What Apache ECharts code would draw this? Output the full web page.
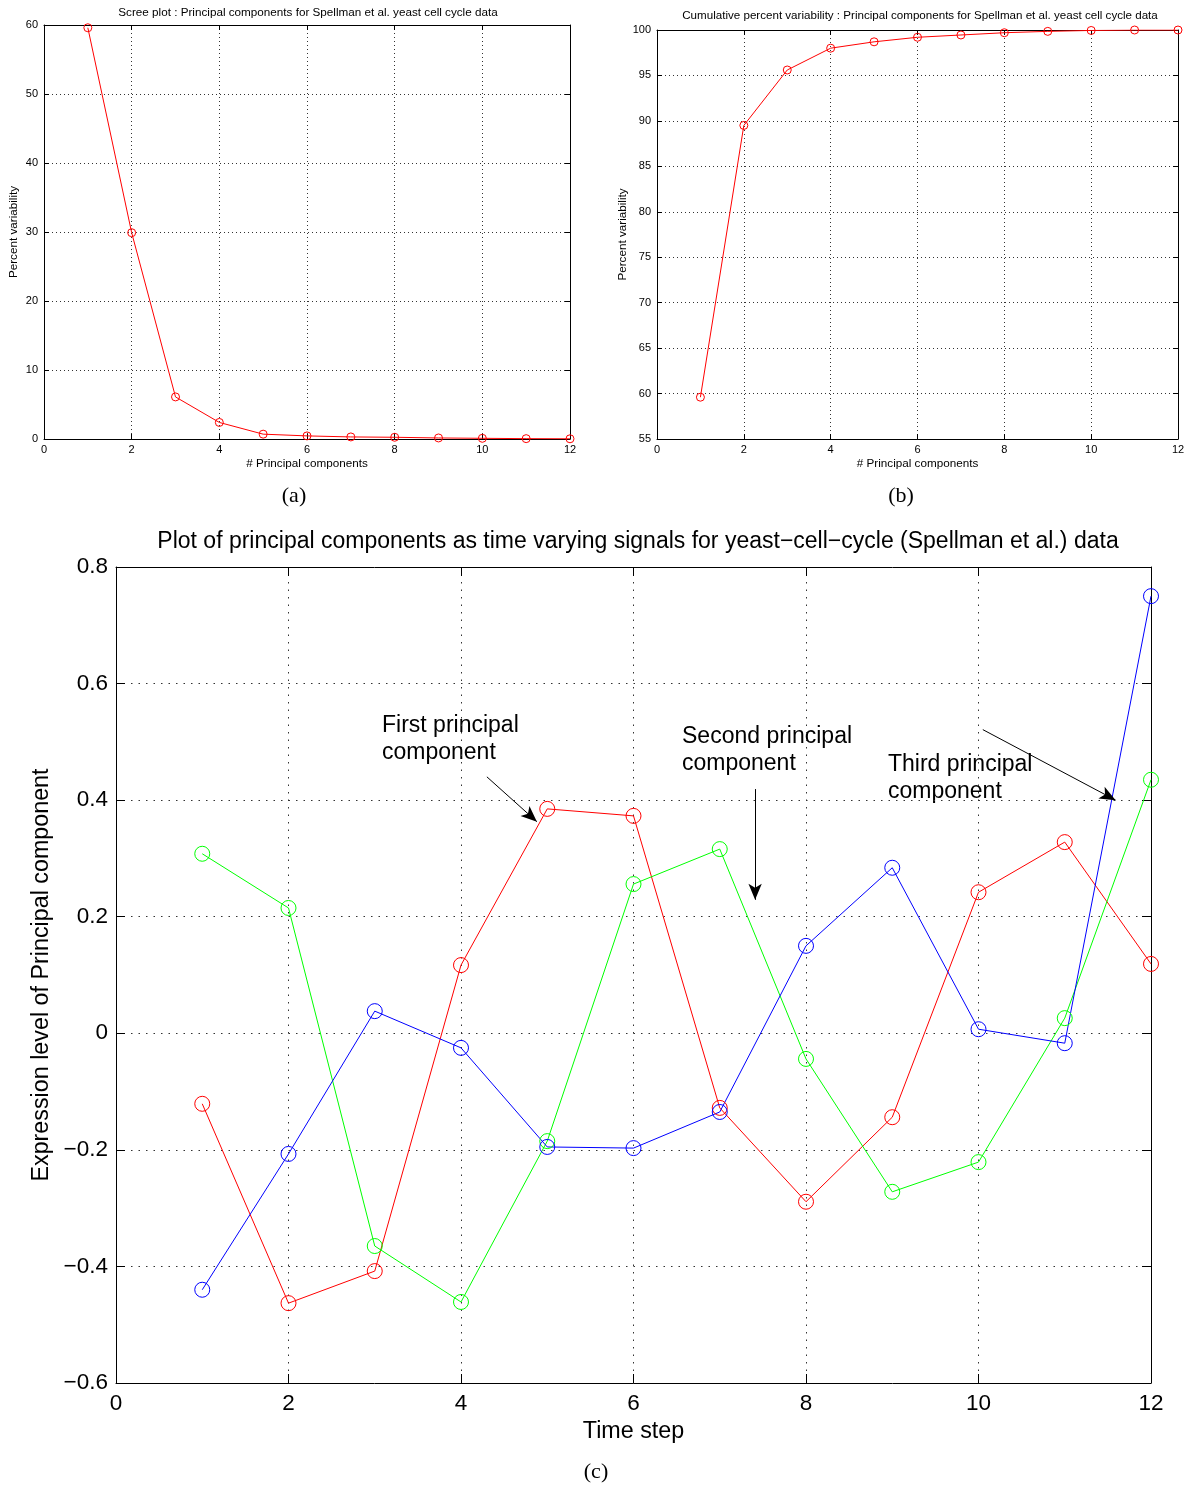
<!DOCTYPE html>
<html>
<head>
<meta charset="utf-8">
<script src="https://cdn.jsdelivr.net/npm/echarts@6/dist/echarts.min.js"></script>
<style>
html,body{margin:0;padding:0;background:#fff;}
#chart{width:1196px;height:1487px;}
</style>
</head>
<body>
<div id="chart"></div>
<script>
// ---- data ----
const componentNumbers = [1, 2, 3, 4, 5, 6, 7, 8, 9, 10, 11, 12];
const screeValues = [59.6, 29.9, 6.1, 2.4, 0.7, 0.45, 0.3, 0.25, 0.15, 0.1, 0.05, 0.03];
const cumulativeValues = [59.6, 89.5, 95.6, 98.0, 98.7, 99.2, 99.45, 99.7, 99.85, 99.95, 100.0, 100.0];
const timeSteps = [1, 2, 3, 4, 5, 6, 7, 8, 9, 10, 11, 12];
const firstPC = [-0.121, -0.463, -0.408, 0.117, 0.385, 0.373, -0.128, -0.289, -0.144, 0.242, 0.328, 0.119];
const secondPC = [0.308, 0.215, -0.365, -0.461, -0.185, 0.256, 0.316, -0.044, -0.272, -0.221, 0.026, 0.435];
const thirdPC = [-0.440, -0.207, 0.038, -0.025, -0.195, -0.197, -0.135, 0.150, 0.284, 0.007, -0.017, 0.750];
const annotationTexts = ['First principal\ncomponent', 'Second principal\ncomponent', 'Third principal\ncomponent'];
// arrows in data coordinates of panel (c): [fromX, fromY, toX, toY]
const annotationArrows = [
  [4.30, 0.440, 4.88, 0.363],
  [7.41, 0.419, 7.41, 0.229],
  [10.05, 0.521, 11.59, 0.400]
];

const FONT = 'Liberation Sans, Arial, Helvetica, sans-serif';
const SERIF = 'Liberation Serif, Times New Roman, serif';
const pair = (xs, ys) => xs.map((x, i) => [x, ys[i]]);

function makeAxes(gi, opt) {
  const common = {
    gridIndex: gi, type: 'value',
    axisLine: {show: true, onZero: false, lineStyle: {color: '#000', width: 1}},
    axisTick: {show: true, inside: true, length: opt.tick, lineStyle: {color: '#000'}},
  };
  const xMain = Object.assign({}, common, {
    position: 'bottom', min: 0, max: 12, interval: 2,
    axisLabel: {show: true, color: '#000', fontFamily: FONT, fontSize: opt.fs, margin: opt.xMargin},
    splitLine: {show: true, lineStyle: {color: '#333', type: opt.dash, width: 1}},
    name: opt.xName, nameLocation: 'middle', nameGap: opt.xNameGap,
    nameTextStyle: {color: '#000', fontFamily: FONT, fontSize: opt.nameFs}
  });
  const xTop = Object.assign({}, common, {
    position: 'top', min: 0, max: 12, interval: 2,
    axisLabel: {show: false}, splitLine: {show: false}
  });
  const yMain = Object.assign({}, common, {
    position: 'left', min: opt.ymin, max: opt.ymax, interval: opt.yint,
    axisLabel: {show: true, color: '#000', fontFamily: FONT, fontSize: opt.fs, margin: opt.yMargin,
      formatter: opt.yFmt},
    splitLine: {show: true, lineStyle: {color: '#333', type: opt.dash, width: 1}},
    name: opt.yName, nameLocation: 'middle', nameGap: opt.yNameGap,
    nameTextStyle: {color: '#000', fontFamily: FONT, fontSize: opt.nameFs}
  });
  const yRight = Object.assign({}, common, {
    position: 'right', min: opt.ymin, max: opt.ymax, interval: opt.yint,
    axisLabel: {show: false}, splitLine: {show: false}
  });
  return {x: [xMain, xTop], y: [yMain, yRight]};
}

const axA = makeAxes(0, {tick: 5, fs: 11, xMargin: 5, yMargin: 6, dash: [1, 3], nameFs: 11.7,
  xName: '# Principal components', xNameGap: 19, yName: 'Percent variability', yNameGap: 24,
  ymin: 0, ymax: 60, yint: 10, yFmt: v => String(v)});
const axB = makeAxes(1, {tick: 5, fs: 11, xMargin: 5, yMargin: 6, dash: [1, 3], nameFs: 11.7,
  xName: '# Principal components', xNameGap: 19, yName: 'Percent variability', yNameGap: 28,
  ymin: 55, ymax: 100, yint: 5, yFmt: v => String(v)});
const axC = makeAxes(2, {tick: 9, fs: 22.5, xMargin: 9, yMargin: 8, dash: [1.5, 6], nameFs: 23.3,
  xName: 'Time step', xNameGap: 35, yName: 'Expression level of Principal component', yNameGap: 63,
  ymin: -0.6, ymax: 0.8, yint: 0.2,
  yFmt: v => { const r = Math.round(v * 10) / 10; return r === 0 ? '0' : (r < 0 ? '\u2212' : '') + Math.abs(r).toFixed(1); }});

function lineSeries(name, xi, yi, data, color, size) {
  return {
    name, type: 'line', xAxisIndex: xi, yAxisIndex: yi, data,
    symbol: 'circle', symbolSize: size, showAllSymbol: true,
    lineStyle: {color, width: 1},
    itemStyle: {color: 'rgba(0,0,0,0)', borderColor: color, borderWidth: 1},
    emphasis: {disabled: true}, animation: false, z: 3
  };
}

const arrowSeries = {
  type: 'line', xAxisIndex: 4, yAxisIndex: 4, data: [], silent: true, animation: false,
  markLine: {
    silent: true, animation: false,
    symbol: ['none', 'arrow'], symbolSize: [10, 16],
    lineStyle: {color: '#000', width: 1, type: 'solid'},
    label: {show: false},
    emphasis: {disabled: true},
    data: annotationArrows.map(a => [{coord: [a[0], a[1]]}, {coord: [a[2], a[3]]}])
  },
  z: 5
};

const option = {
  backgroundColor: '#fff',
  animation: false,
  title: [
    {text: 'Scree plot : Principal components for Spellman et al. yeast cell cycle data',
     left: 308, top: 7, padding: 0, textAlign: 'center',
     textStyle: {fontFamily: FONT, fontSize: 11.7, fontWeight: 'normal', color: '#000'}},
    {text: 'Cumulative percent variability : Principal components for Spellman et al. yeast cell cycle data',
     left: 920, top: 10, padding: 0, textAlign: 'center',
     textStyle: {fontFamily: FONT, fontSize: 11.6, fontWeight: 'normal', color: '#000'}},
    {text: 'Plot of principal components as time varying signals for yeast\u2212cell\u2212cycle (Spellman et al.) data',
     left: 638, top: 530, padding: 0, textAlign: 'center',
     textStyle: {fontFamily: FONT, fontSize: 23, fontWeight: 'normal', color: '#000'}}
  ],
  grid: [
    {left: 44, top: 25, width: 526, height: 414},
    {left: 657, top: 30, width: 521, height: 409},
    {left: 116, top: 567, width: 1035, height: 816}
  ],
  xAxis: [...axA.x, ...axB.x, ...axC.x],
  yAxis: [...axA.y, ...axB.y, ...axC.y],
  series: [
    lineSeries('Scree', 0, 0, pair(componentNumbers, screeValues), '#ff0000', 8),
    lineSeries('Cumulative', 2, 2, pair(componentNumbers, cumulativeValues), '#ff0000', 8),
    lineSeries('First principal component', 4, 4, pair(timeSteps, firstPC), '#ff0000', 15),
    lineSeries('Second principal component', 4, 4, pair(timeSteps, secondPC), '#00ff00', 15),
    lineSeries('Third principal component', 4, 4, pair(timeSteps, thirdPC), '#0000ff', 15),
    arrowSeries
  ],
  graphic: [
    {type: 'text', x: 382, y: 712, style: {text: annotationTexts[0], font: '23px ' + FONT, fill: '#000', lineHeight: 27}},
    {type: 'text', x: 682, y: 723, style: {text: annotationTexts[1], font: '23px ' + FONT, fill: '#000', lineHeight: 27}},
    {type: 'text', x: 888, y: 751, style: {text: annotationTexts[2], font: '23px ' + FONT, fill: '#000', lineHeight: 27}},
    {type: 'text', x: 294, y: 496, style: {text: '(a)', font: '22px ' + SERIF, fill: '#000', align: 'center', verticalAlign: 'middle'}},
    {type: 'text', x: 901, y: 496, style: {text: '(b)', font: '22px ' + SERIF, fill: '#000', align: 'center', verticalAlign: 'middle'}},
    {type: 'text', x: 596, y: 1472, style: {text: '(c)', font: '22px ' + SERIF, fill: '#000', align: 'center', verticalAlign: 'middle'}}
  ]
};

const chart = echarts.init(document.getElementById('chart'), null, {renderer: 'canvas'});
chart.setOption(option);
</script>
</body>
</html>
